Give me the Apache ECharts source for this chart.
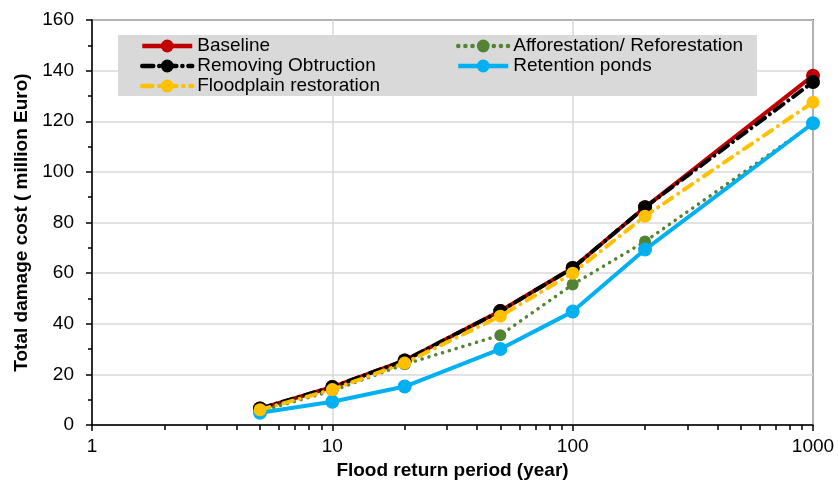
<!DOCTYPE html>
<html>
<head>
<meta charset="utf-8">
<script src="https://cdn.jsdelivr.net/npm/echarts@6/dist/echarts.min.js"></script>
<style>html,body{margin:0;padding:0;background:#fff}#chart{width:838px;height:481px}</style>
</head>
<body>
<div id="chart"></div>
<script>
const returnPeriods = [5, 10, 20, 50, 100, 200, 1000];
const baseline      = [6.5, 15, 25.5, 45, 62, 86, 138];
const removingObstr = [6.5, 15, 25.5, 45, 62, 86, 135.5];
const floodplain    = [6, 14, 24.5, 43, 60, 82.5, 127.5];
const afforestation = [5.5, 13.5, 24, 35.5, 55.5, 72.5, 119];
const retention     = [4.8, 9.2, 15.2, 30, 44.8, 69.3, 119.2];
const xMinorTickValues = [1,2,3,4,5,6,7,8,9,10,20,30,40,50,60,70,80,90,100,200,300,400,500,600,700,800,900,1000];

const FONT = 'Liberation Sans';
const pairs = arr => returnPeriods.map((x, i) => [x, arr[i]]);

const legendCommon = {
  top: 36, orient: 'vertical', padding: 0, itemGap: 0, itemWidth: 50, itemHeight: 16, z: 5,
  lineStyle: { width: 4.5 },
  textStyle: { fontSize: 19, fontFamily: FONT, color: '#000', lineHeight: 20 }
};

const chart = echarts.init(document.getElementById('chart'));
chart.setOption({
  animation: false,
  textStyle: { fontFamily: FONT },
  grid: { left: 92, right: 25, top: 20, bottom: 56, containLabel: false, outerBoundsMode: 'none',
          show: true, borderColor: '#000', borderWidth: 1.5, backgroundColor: 'transparent' },
  graphic: [{ type: 'rect', left: 118, top: 35, shape: { width: 639, height: 61 }, style: { fill: '#d9d9d9' }, z: 1 }],
  legend: [
    Object.assign({ left: 140, data: ['Baseline', 'Removing Obtruction', 'Floodplain restoration'] }, legendCommon),
    Object.assign({ left: 456, data: ['Afforestation/ Reforestation', 'Retention ponds'] }, legendCommon)
  ],
  xAxis: [{
    type: 'log', logBase: 10, min: 1, max: 1000, position: 'bottom',
    name: 'Flood return period (year)', nameLocation: 'middle', nameGap: 36,
    nameTextStyle: { fontSize: 19, fontWeight: 'bold', color: '#000', fontFamily: FONT },
    axisLine: { lineStyle: { color: '#000', width: 1.5 } },
    axisTick: { show: true, length: 6, lineStyle: { color: '#000', width: 1.5 } },
    axisLabel: { fontSize: 19, color: '#000', margin: 12, fontFamily: FONT, formatter: v => String(v) },
    splitLine: { show: true, lineStyle: { color: '#d9d9d9', width: 1.5 } }
  }, {
    type: 'log', logBase: 10, min: 1, max: 1000, position: 'bottom', offset: 0,
    axisLine: { show: false },
    axisTick: { show: true, length: 5, customValues: xMinorTickValues, lineStyle: { color: '#000', width: 1.5 } },
    axisLabel: { show: false },
    splitLine: { show: false }
  }],
  yAxis: {
    type: 'value', min: 0, max: 160, interval: 20,
    name: 'Total damage cost ( million Euro)', nameLocation: 'middle', nameGap: 59,
    nameTextStyle: { fontSize: 19, fontWeight: 'bold', color: '#000', fontFamily: FONT },
    axisLine: { show: true, lineStyle: { color: '#000', width: 1.5 } },
    axisTick: { show: true, length: 6, lineStyle: { color: '#000', width: 1.5 } },
    minorTick: { show: true, splitNumber: 2, length: 4, lineStyle: { color: '#000', width: 1.5 } },
    axisLabel: { fontSize: 19, color: '#000', margin: 18, fontFamily: FONT },
    splitLine: { show: true, lineStyle: { color: '#d9d9d9', width: 1.5 } }
  },
  series: [
    { name: 'Baseline', type: 'line', data: pairs(baseline), z: 10,
      symbol: 'circle', symbolSize: 14, itemStyle: { color: '#c00000' },
      lineStyle: { color: '#c00000', width: 4 } },
    { name: 'Removing Obtruction', type: 'line', data: pairs(removingObstr), z: 11,
      symbol: 'circle', symbolSize: 14, itemStyle: { color: '#000' },
      lineStyle: { color: '#000', width: 4, type: [11, 6, 0.1, 6], cap: 'round' } },
    { name: 'Afforestation/ Reforestation', type: 'line', data: pairs(afforestation), z: 12,
      symbol: 'circle', symbolSize: 12, itemStyle: { color: '#548235' },
      lineStyle: { color: '#548235', width: 3.5, type: [0.1, 7], cap: 'round' } },
    { name: 'Retention ponds', type: 'line', data: pairs(retention), z: 13,
      symbol: 'circle', symbolSize: 14, itemStyle: { color: '#00b0f0' },
      lineStyle: { color: '#00b0f0', width: 4 } },
    { name: 'Floodplain restoration', type: 'line', data: pairs(floodplain), z: 14,
      symbol: 'circle', symbolSize: 13, itemStyle: { color: '#ffc000' },
      lineStyle: { color: '#ffc000', width: 4, type: [10, 7, 0.1, 7], cap: 'round' } }
  ]
});
</script>
</body>
</html>
